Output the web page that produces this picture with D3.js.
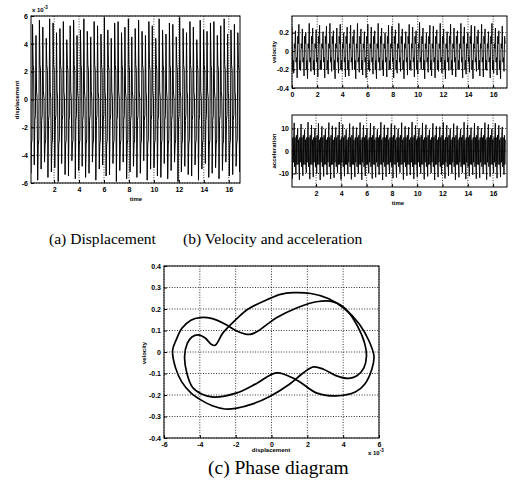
<!DOCTYPE html>
<html>
<head>
<meta charset="utf-8">
<script src="https://cdn.jsdelivr.net/npm/d3@7"></script>
<style>
body { margin: 0; background: #fff; }
svg text { font-family: "Liberation Sans", Arial, sans-serif; }
.tick text { font-size: 7px; font-weight: bold; fill: #000; }
.tick line { stroke: #000; }
.cap { font-family: "Liberation Serif", "Times New Roman", serif !important; fill: #000; }
.lab { font-size: 6px; font-weight: bold; fill: #000; }
</style>
</head>
<body>
<script>
// ---- data ----
const nCycles = 62, tEnd = 17.0;

// displacement peaks per cycle (x 1e-3)
const dispMax = [5.0,5.4,4.6,5.7,5.2,4.4,5.8,5.5,4.8,5.1,5.6,4.3,5.3,5.7,4.6,5.0,5.8,4.9,4.5,5.6,
  5.3,4.7,5.9,5.0,4.4,5.5,5.6,4.8,5.2,5.8,4.5,5.1,5.7,4.9,4.6,5.6,5.3,4.4,5.8,5.0,
  4.7,5.5,5.4,4.5,5.9,5.1,4.8,5.6,5.2,4.3,5.7,5.0,4.9,5.5,5.6,4.6,5.3,5.8,4.7,5.0,5.4,4.8];
const dispMin = [-5.3,-4.7,-5.8,-5.0,-4.5,-5.6,-5.2,-4.9,-5.9,-4.6,-5.4,-5.5,-4.4,-5.7,-5.1,-4.8,-5.6,-5.3,-4.5,-5.8,
  -5.0,-4.7,-5.5,-5.4,-4.6,-5.9,-5.1,-4.5,-5.7,-5.2,-4.8,-5.6,-5.3,-4.4,-5.8,-5.0,-4.9,-5.5,-5.6,-4.6,
  -5.7,-5.1,-4.5,-5.9,-5.2,-4.8,-5.4,-5.5,-4.7,-5.8,-5.0,-4.6,-5.6,-5.3,-4.9,-5.7,-5.1,-4.5,-5.5,-5.4,-4.8,-5.2];
// slow parts inside each swing, two alternating cycles (from the phase orbit)
const dispInner = [[[0.6, 0.1], [-3.2, -2.9]], [[2.5, 2.1], [-1.5, -1.1]]];

const velMax = [0.26,0.22,0.29,0.24,0.2,0.3,0.25,0.23,0.28,0.21,0.27,0.3,0.22,0.25,0.29,0.2,0.26,0.28,0.23,0.3,
  0.24,0.21,0.29,0.26,0.22,0.3,0.25,0.2,0.28,0.27,0.23,0.3,0.24,0.21,0.29,0.26,0.22,0.31,0.25,0.2,
  0.28,0.27,0.23,0.3,0.24,0.21,0.29,0.25,0.22,0.3,0.26,0.2,0.28,0.27,0.23,0.29,0.24,0.21,0.3,0.25,0.22,0.27];
const velMin = [-0.24,-0.29,-0.21,-0.27,-0.3,-0.22,-0.26,-0.28,-0.2,-0.29,-0.25,-0.22,-0.3,-0.24,-0.21,-0.28,-0.27,-0.2,-0.3,-0.23,
  -0.26,-0.29,-0.22,-0.25,-0.3,-0.21,-0.27,-0.28,-0.2,-0.29,-0.24,-0.22,-0.3,-0.26,-0.21,-0.28,-0.25,-0.2,-0.3,-0.23,
  -0.27,-0.29,-0.22,-0.24,-0.3,-0.21,-0.26,-0.28,-0.2,-0.29,-0.25,-0.23,-0.3,-0.22,-0.27,-0.28,-0.21,-0.29,-0.24,-0.26,-0.3,-0.22];
const velInner = [[[-0.2, -0.1], [0.08, 0.03]], [[-0.12, -0.07], [0.16, 0.08]]];

const accMax = [11,12.5,10,12,9.5,12.8,11.5,10.2,12.3,11,9.8,12.6,11.2,10.5,12.9,11.8,9.6,12.2,11,10.4,
  12.7,11.5,10,12.4,11.1,9.7,12.8,11.6,10.3,12.1,11.4,9.9,12.6,11,10.6,12.9,11.3,10.1,12.5,11.7,
  9.5,12.3,11,10.8,12.7,11.5,10,12.2,11.2,9.8,12.8,11.6,10.4,12.4,11.1,10.2,12.6,11.8,9.9,12.3,11.4,10.7];
const accMin = [-12.2,-10.4,-12.8,-11,-9.8,-12.5,-11.6,-10.1,-12.9,-11.3,-10.6,-12.4,-11.9,-9.7,-12.7,-11.2,-10.3,-12.6,-11.5,-10,
  -12.8,-11.1,-9.9,-12.3,-11.7,-10.5,-12.9,-11.4,-10.2,-12.1,-11.8,-9.6,-12.7,-11,-10.7,-12.4,-11.5,-10.1,-12.6,-11.3,
  -9.8,-12.9,-11.6,-10.4,-12.2,-11.1,-10,-12.8,-11.7,-9.7,-12.5,-11.2,-10.6,-12.3,-11.9,-10.2,-12.7,-11.4,-9.9,-12.1,-11.6,-10.5];
const accInner = [[[-6, 5, -7], [6, -5, 7]], [[-7, 6, -5], [7, -6, 5]]];

// phase diagram: two closed loops (displacement x 1e-3, velocity)
const loopA_x = [-3.15,-2.7,-2.0,-1.3,-0.2,0.5,1.2,2.2,3.2,4.1,4.9,5.45,5.72,5.6,5.2,4.7,3.6,2.5,1.4,0.28,-0.83,-1.94,-3.24,-3.9,-4.4,-4.72,-4.85,-4.7,-4.44,-4.08,-3.7,-3.35];
const loopA_v = [0.031,0.09,0.15,0.2,0.245,0.268,0.276,0.272,0.248,0.2,0.13,0.05,-0.02,-0.08,-0.15,-0.185,-0.204,-0.19,-0.13,-0.097,-0.146,-0.19,-0.21,-0.195,-0.165,-0.1,-0.02,0.04,0.07,0.08,0.065,0.035];
const loopB_x = [-5.52,-5.3,-5.0,-4.5,-3.98,-3.3,-2.6,-2.0,-1.5,-1.2,-0.8,-0.3,0.3,1.4,2.6,3.5,4.2,4.8,5.2,5.3,5.15,4.75,4.3,3.6,2.9,2.35,1.8,1.0,-0.1,-1.0,-2.0,-2.6,-3.3,-3.9,-4.5,-5.0,-5.35];
const loopB_v = [0.008,0.06,0.11,0.148,0.16,0.155,0.13,0.1,0.084,0.082,0.095,0.125,0.16,0.205,0.235,0.232,0.195,0.12,0.04,-0.02,-0.075,-0.112,-0.123,-0.11,-0.08,-0.069,-0.095,-0.15,-0.207,-0.24,-0.262,-0.265,-0.25,-0.225,-0.19,-0.14,-0.075];

// ticks
const timeTicks = [2, 4, 6, 8, 10, 12, 14, 16];
const velTimeTicks = [0, 2, 4, 6, 8, 10, 12, 14, 16];
const dispTicks = [-6, -4, -2, 0, 2, 4, 6];
const velTicks = [-0.4, -0.2, 0, 0.2];
const accTicks = [-10, 0, 10];
const phaseXTicks = [-6, -4, -2, 0, 2, 4, 6];
const phaseVTicks = [-0.4, -0.3, -0.2, -0.1, 0, 0.1, 0.2, 0.3, 0.4];

// ---- drawing ----
const svg = d3.select("body").append("svg").attr("width", 532).attr("height", 485);
const T = tEnd / nCycles;

function cycles(peaks, troughs, inner) {
  const pts = [];
  peaks.forEach((p, i) => {
    const pat = inner[i % inner.length];
    const seq = [p, ...pat[0], troughs[i], ...pat[1]];
    seq.forEach((v, k) => pts.push([(i + k / seq.length) * T, v]));
  });
  return pts;
}

let clipN = 0;
function panel(box, xDom, yDom, xTicks, yTicks) {
  const x = d3.scaleLinear().domain(xDom).range([box.l, box.r]);
  const y = d3.scaleLinear().domain(yDom).range([box.b, box.t]);
  const g = svg.append("g");
  const id = "clip" + (clipN++);
  svg.append("clipPath").attr("id", id).append("rect")
    .attr("x", box.l).attr("y", box.t).attr("width", box.r - box.l).attr("height", box.b - box.t);
  // dotted grid
  g.selectAll(".gx").data(xTicks).enter().append("line")
    .attr("x1", d => x(d)).attr("x2", d => x(d)).attr("y1", box.t).attr("y2", box.b)
    .attr("stroke", "#000").attr("stroke-width", 0.8).attr("stroke-dasharray", "1,1.6");
  g.selectAll(".gy").data(yTicks).enter().append("line")
    .attr("x1", box.l).attr("x2", box.r).attr("y1", d => y(d)).attr("y2", d => y(d))
    .attr("stroke", "#000").attr("stroke-width", 0.8).attr("stroke-dasharray", "1,1.6");
  const fmt = d => String(d);
  g.append("g").attr("transform", "translate(0," + box.b + ")")
    .call(d3.axisBottom(x).tickValues(xTicks).tickSize(-3).tickPadding(4).tickFormat(fmt))
    .call(a => a.select(".domain").remove());
  g.append("g").attr("transform", "translate(" + box.l + ",0)")
    .call(d3.axisLeft(y).tickValues(yTicks).tickSize(-3).tickPadding(3).tickFormat(fmt))
    .call(a => a.select(".domain").remove());
  return { x, y, g, clip: "url(#" + id + ")", box };
}

function drawSeries(p, pts, width, curve) {
  p.g.append("path").datum(pts)
    .attr("clip-path", p.clip)
    .attr("fill", "none").attr("stroke", "#000").attr("stroke-width", width)
    .attr("d", d3.line().x(d => p.x(d[0])).y(d => p.y(d[1])).curve(curve || d3.curveLinear));
}

function frame(p) {
  p.g.append("rect").attr("x", p.box.l).attr("y", p.box.t)
    .attr("width", p.box.r - p.box.l).attr("height", p.box.b - p.box.t)
    .attr("fill", "none").attr("stroke", "#000").attr("stroke-width", 1);
}

function ylab(xp, yp, txt) {
  svg.append("text").attr("class", "lab").attr("text-anchor", "middle")
    .attr("transform", "translate(" + xp + "," + yp + ") rotate(-90)").text(txt);
}
function xlab(xp, yp, txt) {
  svg.append("text").attr("class", "lab").attr("text-anchor", "middle")
    .attr("x", xp).attr("y", yp).text(txt);
}
function expo(xp, yp) {
  const t = svg.append("text").attr("x", xp).attr("y", yp)
    .attr("font-size", "6px").attr("font-weight", "bold");
  t.append("tspan").text("x 10");
  t.append("tspan").attr("dy", -3).attr("font-size", "4.5px").text("-3");
}

// (a) displacement
const pa = panel({ l: 31, t: 16, r: 240, b: 183 }, [0.15, 16.9], [-6, 6], timeTicks, dispTicks);
drawSeries(pa, cycles(dispMax, dispMin, dispInner), 1);
frame(pa);
expo(32, 12);
ylab(19, 100, "displacement");
xlab(136, 201, "time");

// (b) velocity
const pv = panel({ l: 292, t: 16, r: 507, b: 88 }, [0, 17.1], [-0.4, 0.38], velTimeTicks, velTicks);
drawSeries(pv, cycles(velMax, velMin, velInner), 0.9);
frame(pv);
ylab(276, 52, "velocity");

// (b) acceleration
const pacc = panel({ l: 292, t: 115, r: 507, b: 187 }, [0.1, 17.1], [-16, 16], timeTicks, accTicks);
drawSeries(pacc, cycles(accMax, accMin, accInner), 0.9);
frame(pacc);
ylab(276, 151, "acceleration");
xlab(398, 205, "time");

// (c) phase diagram
const pc = panel({ l: 164, t: 266, r: 379, b: 438 }, [-6, 6], [-0.4, 0.4], phaseXTicks, phaseVTicks);
drawSeries(pc, d3.zip(loopA_x, loopA_v), 1.7, d3.curveCatmullRomClosed);
drawSeries(pc, d3.zip(loopB_x, loopB_v), 1.7, d3.curveCatmullRomClosed);
frame(pc);
ylab(146, 353, "velocity");
xlab(271, 452, "displacement");
expo(368, 455);

// captions
svg.append("text").attr("class", "cap").attr("x", 49).attr("y", 244)
  .attr("font-size", "15.6px").text("(a) Displacement");
svg.append("text").attr("class", "cap").attr("x", 183).attr("y", 244)
  .attr("font-size", "15.6px").text("(b) Velocity and acceleration");
svg.append("text").attr("class", "cap").attr("x", 208).attr("y", 474)
  .attr("font-size", "19.5px").text("(c) Phase diagram");
</script>
</body>
</html>
